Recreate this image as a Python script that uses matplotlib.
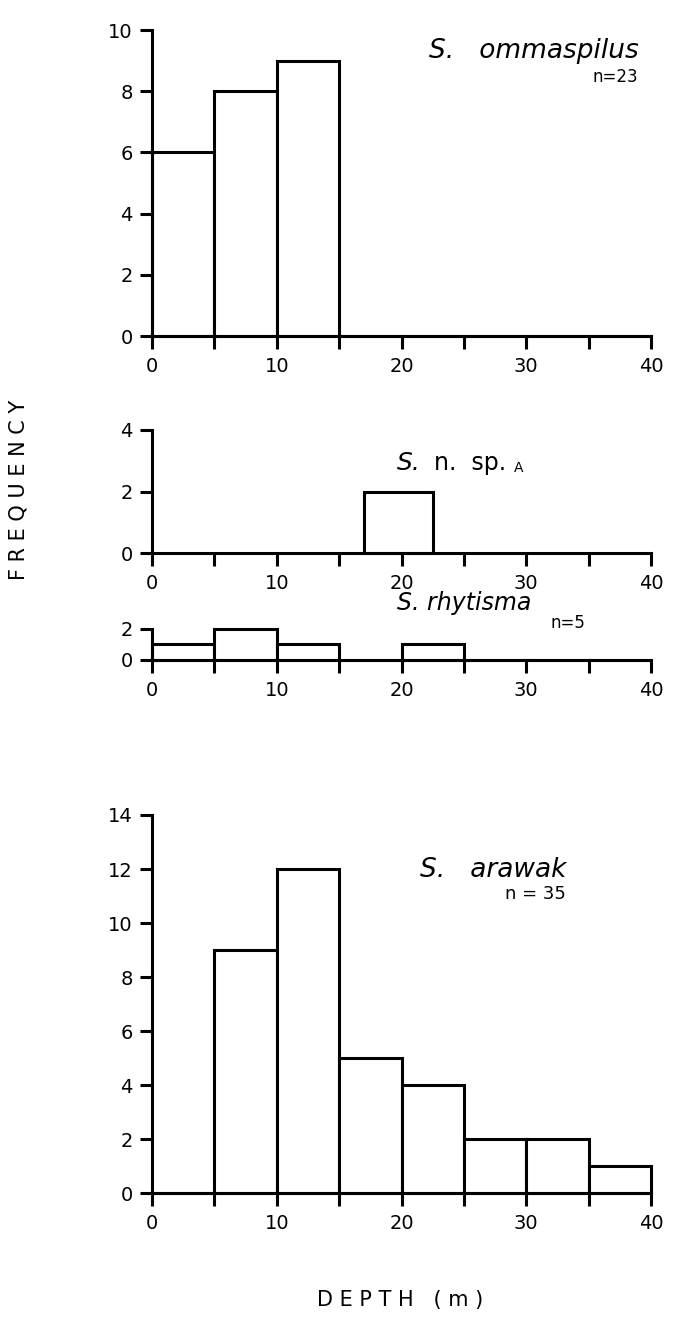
import numpy as np
import matplotlib
matplotlib.use("Agg")
import matplotlib.pyplot as plt
from matplotlib.ticker import FixedLocator, FuncFormatter

# bin edges (depth, m) and counts
bin_left = [0, 5, 10, 15, 20, 25, 30, 35]
bin_width = 5

ommaspilus_counts = [6, 8, 9, 0, 0, 0, 0, 0]
sp_a_left = [17.0]
sp_a_width = [5.5]
sp_a_counts = [2]
rhytisma_counts = [1, 2, 1, 0, 1, 0, 0, 0]
arawak_counts = [0, 9, 12, 5, 4, 2, 2, 1]

x_ticks = [0, 5, 10, 15, 20, 25, 30, 35, 40]
x_labels = {0: "0", 10: "10", 20: "20", 30: "30", 40: "40"}

plt.rcParams['font.family'] = ['DejaVu Sans']
LW = 2.2

fig = plt.figure(figsize=(6.79, 13.42), dpi=100)

def styleAxes(ax, ymax, ystep):
    for side in ['top', 'right']:
        ax.spines[side].set_visible(False)
    for side in ['left', 'bottom']:
        ax.spines[side].set_linewidth(LW)
    ax.set_xlim(0, 40)
    ax.set_ylim(0, ymax)
    ax.xaxis.set_major_locator(FixedLocator(x_ticks))
    ax.xaxis.set_major_formatter(FuncFormatter(lambda v, p: x_labels.get(int(round(v)), "")))
    ax.set_yticks(np.arange(0, ymax + 0.1, ystep))
    ax.tick_params(axis='both', direction='out', length=9, width=LW, labelsize=14)
    ax.tick_params(axis='x', pad=6)
    ax.tick_params(axis='y', pad=5)
    ax.patch.set_alpha(0)

def drawBars(ax, left, counts, width):
    ax.bar(left, counts, width=width, align='edge', facecolor='white',
           edgecolor='black', linewidth=LW, zorder=2, clip_on=False)

# panel positions [left, bottom, width, height] in figure fraction
ax1 = fig.add_axes([0.2239, 0.7496, 0.7349, 0.2280])
ax2 = fig.add_axes([0.2239, 0.5879, 0.7349, 0.0917])
ax3 = fig.add_axes([0.2239, 0.5082, 0.7349, 0.0231])
ax4 = fig.add_axes([0.2239, 0.1110, 0.7349, 0.2817])

drawBars(ax1, bin_left, ommaspilus_counts, bin_width)
styleAxes(ax1, 10, 2)
ax1.text(0.975, 0.93, "S.   ommaspilus", transform=ax1.transAxes, ha='right', va='center',
         fontsize=19, style='italic')
ax1.text(0.975, 0.845, "n=23", transform=ax1.transAxes, ha='right', va='center', fontsize=12)

drawBars(ax2, sp_a_left, sp_a_counts, sp_a_width)
styleAxes(ax2, 4, 2)
ax2.text(0.49, 0.73, "S.", transform=ax2.transAxes, ha='left', va='center',
         fontsize=18, style='italic')
ax2.text(0.565, 0.73, "n.  sp.", transform=ax2.transAxes, ha='left', va='center', fontsize=17)
ax2.text(0.725, 0.69, "A", transform=ax2.transAxes, ha='left', va='center', fontsize=10)

drawBars(ax3, bin_left, rhytisma_counts, bin_width)
styleAxes(ax3, 2, 2)
ax3.text(0.49, 1.85, "S. rhytisma", transform=ax3.transAxes, ha='left', va='center',
         fontsize=17, style='italic')
ax3.text(0.868, 1.2, "n=5", transform=ax3.transAxes, ha='right', va='center', fontsize=12)

drawBars(ax4, bin_left, arawak_counts, bin_width)
styleAxes(ax4, 14, 2)
ax4.text(0.83, 0.855, "S.   arawak", transform=ax4.transAxes, ha='right', va='center',
         fontsize=19, style='italic')
ax4.text(0.83, 0.79, "n = 35", transform=ax4.transAxes, ha='right', va='center', fontsize=13)

fig.text(0.027, 0.635, "F R E Q U E N C Y", rotation=90, ha='center', va='center', fontsize=15)
fig.text(0.59, 0.031, "D E P T H   ( m )", ha='center', va='center', fontsize=15)

fig.savefig("out.png", dpi=100)
